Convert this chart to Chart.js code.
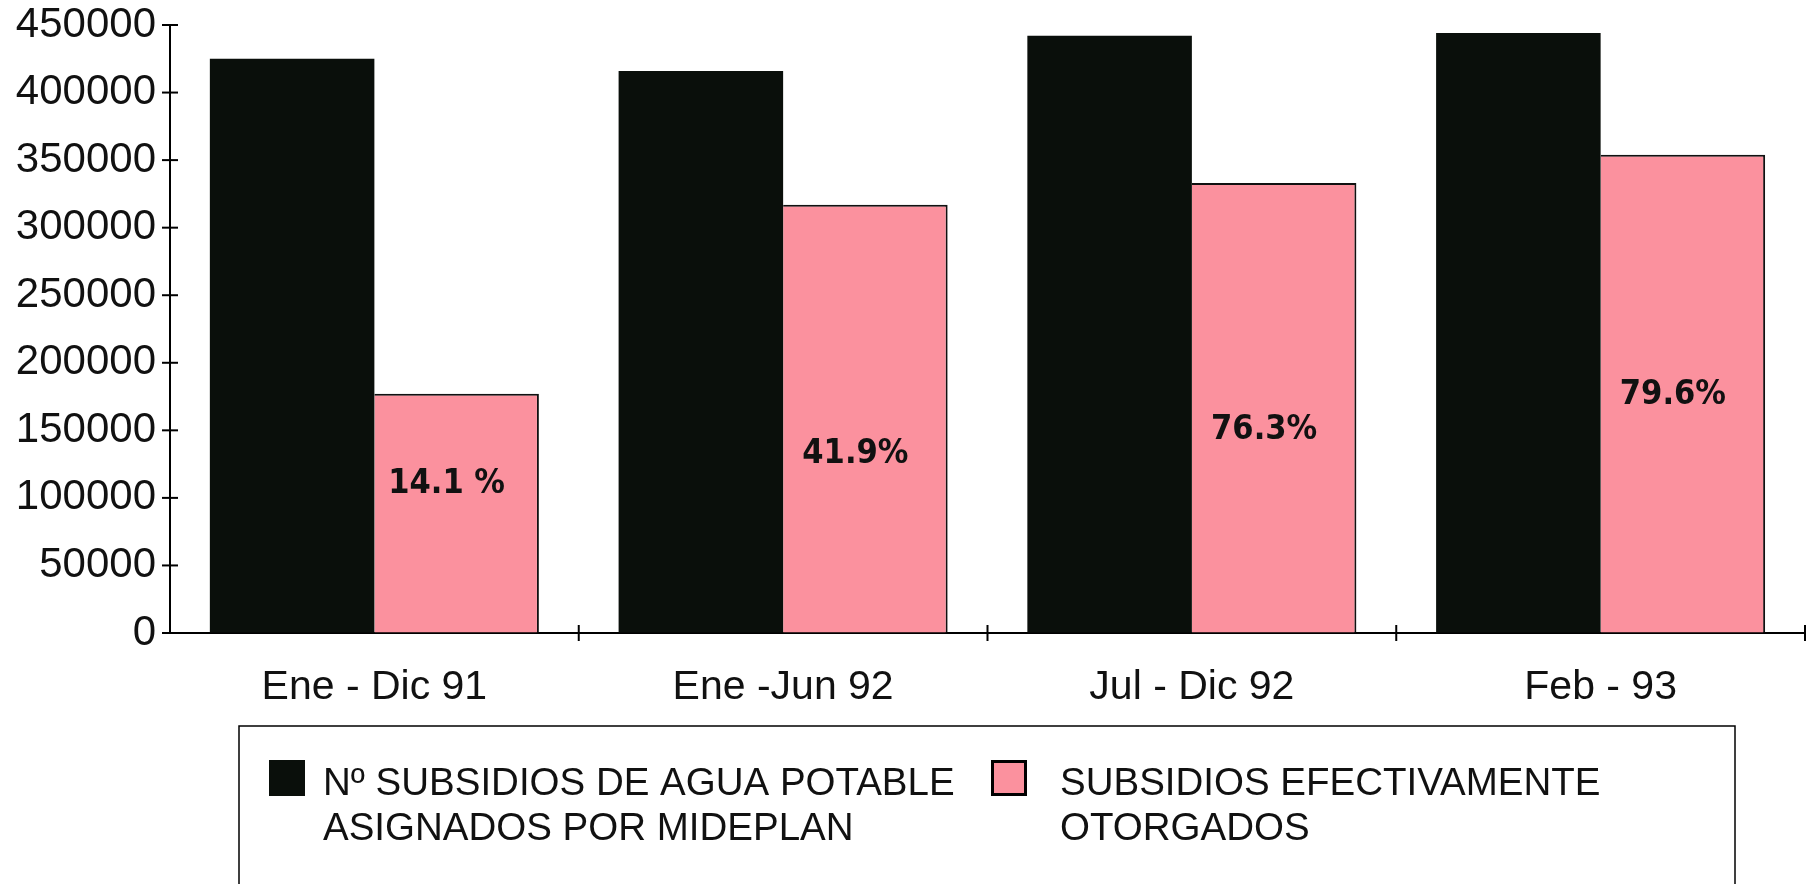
<!DOCTYPE html>
<html>
<head>
<meta charset="utf-8">
<script src="https://cdn.jsdelivr.net/npm/chart.js@4/dist/chart.umd.min.js"></script>
<style>
  html, body { margin: 0; padding: 0; background: #fff; }
  #chart { display: block; }
</style>
</head>
<body>
<canvas id="chart" width="1811" height="884"></canvas>
<script>
'use strict'

// categorias (periodos)
const periodos = ['Ene - Dic 91', 'Ene -Jun 92', 'Jul - Dic 92', 'Feb - 93'];
// subsidios asignados por MIDEPLAN
const asignados = [425000, 416000, 442000, 444000];
// subsidios efectivamente otorgados
const otorgados = [177000, 317000, 333000, 354000];
// porcentajes escritos a mano sobre las barras rosadas
const porcentajes = ['14.1 %', '41.9%', '76.3%', '79.6%'];
// altura (en valores del eje) donde va cada porcentaje
const alturaPorcentaje = [110000, 132000, 150000, 176000];
// eje y
const ticksY = [0, 50000, 100000, 150000, 200000, 250000, 300000, 350000, 400000, 450000];

const nombreAsignados = ['Nº SUBSIDIOS DE AGUA POTABLE', 'ASIGNADOS POR MIDEPLAN'];
const nombreOtorgados = ['SUBSIDIOS EFECTIVAMENTE', 'OTORGADOS'];

const negro = '#0a0f0b';
const rosa = '#fb919e';
const fuente = 'Arial, "Liberation Sans", Helvetica, sans-serif';

// marcas cruzadas en los ejes y porcentajes
const marcas = {
  id: 'marcas',
  afterDatasetsDraw(chart) {
    const ctx = chart.ctx;
    const x = chart.scales.x;
    const y = chart.scales.y;
    const area = chart.chartArea;
    ctx.save();
    ctx.strokeStyle = '#000';
    ctx.lineWidth = 2;
    ticksY.forEach(v => {
      const py = y.getPixelForValue(v);
      ctx.beginPath();
      ctx.moveTo(area.left - 8, py);
      ctx.lineTo(area.left + 8, py);
      ctx.stroke();
    });
    for (let i = 0; i < periodos.length; i++) {
      const px = x.getPixelForValue(i) + (x.getPixelForValue(1) - x.getPixelForValue(0)) / 2;
      ctx.beginPath();
      ctx.moveTo(px, area.bottom - 8);
      ctx.lineTo(px, area.bottom + 8);
      ctx.stroke();
    }

    // porcentajes
    const meta = chart.getDatasetMeta(1);
    ctx.fillStyle = '#111';
    ctx.font = 'bold 34px "DejaVu Sans Condensed", "DejaVu Sans", sans-serif';
    ctx.fontStretch = 'condensed';
    ctx.textAlign = 'center';
    ctx.textBaseline = 'middle';
    meta.data.forEach((bar, i) => {
      ctx.fillText(porcentajes[i], bar.x - 10, y.getPixelForValue(alturaPorcentaje[i]));
    });
    ctx.restore();
  }
};

// leyenda con recuadro abajo
const leyenda = {
  id: 'leyenda',
  afterDraw(chart) {
    const ctx = chart.ctx;
    ctx.save();
    ctx.strokeStyle = '#000';
    ctx.lineWidth = 1.5;
    ctx.strokeRect(239, 726, 1496, 200);

    ctx.font = '38.5px ' + fuente;
    ctx.textAlign = 'left';
    ctx.textBaseline = 'middle';
    const items = [
      { x: 269, tx: 323, label: chart.data.datasets[0].label, color: negro, borde: false },
      { x: 991, tx: 1060, label: chart.data.datasets[1].label, color: rosa, borde: true }
    ];
    items.forEach(it => {
      ctx.fillStyle = it.color;
      ctx.fillRect(it.x, 760, 36, 36);
      if (it.borde) {
        ctx.lineWidth = 3;
        ctx.strokeRect(it.x + 1.5, 761.5, 33, 33);
      }
      ctx.fillStyle = '#111';
      ctx.fillText(it.label[0], it.tx, 784);
      ctx.fillText(it.label[1], it.tx, 829);
    });
    ctx.restore();
  }
};

const ctx = document.getElementById('chart').getContext('2d');
const grafico = new Chart(ctx, {
  type: 'bar',
  data: {
    labels: periodos,
    datasets: [{
      label: nombreAsignados,
      data: asignados,
      backgroundColor: negro,
      borderWidth: 0,
      categoryPercentage: 0.805,
      barPercentage: 1.0
    }, {
      label: nombreOtorgados,
      data: otorgados,
      backgroundColor: rosa,
      borderColor: '#111',
      borderWidth: { top: 2, right: 2, left: 0, bottom: 0 },
      borderSkipped: 'bottom',
      categoryPercentage: 0.805,
      barPercentage: 1.0
    }]
  },
  options: {
    responsive: false,
    animation: false,
    layout: { padding: { top: 0, right: 6, bottom: 0, left: 0 } },
    plugins: {
      legend: { display: false },
      tooltip: { enabled: false }
    },
    scales: {
      x: {
        offset: true,
        grid: { display: true, drawOnChartArea: false, drawTicks: false },
        border: { display: true, color: '#000', width: 2 },
        ticks: {
          color: '#111',
          padding: 30,
          font: { family: fuente, size: 41 }
        },
        afterFit(scale) {
          scale.height = 251;
          scale.paddingLeft = 0;
          scale.paddingRight = 0;
        }
      },
      y: {
        min: 0,
        max: 450000,
        afterBuildTicks(scale) { scale.ticks = ticksY.map(v => ({ value: v })); },
        grid: { display: true, drawOnChartArea: false, drawTicks: false },
        border: { display: true, color: '#000', width: 2 },
        ticks: {
          color: '#111',
          padding: 14,
          font: { family: fuente, size: 42 },
          callback: v => String(v)
        },
        afterFit(scale) {
          scale.width = 170;
          scale.paddingTop = 25;
          scale.paddingBottom = 0;
        }
      }
    }
  },
  plugins: [marcas, leyenda]
});
</script>
</body>
</html>
